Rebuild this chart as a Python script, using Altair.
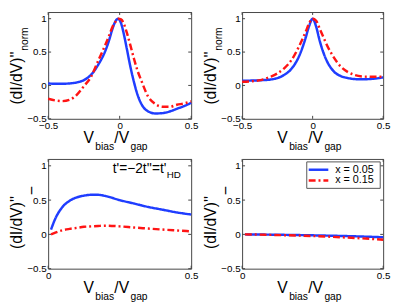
import altair as alt
import pandas as pd

FONT = "Liberation Sans"
BLUE = "#1f3dff"
RED = "#ff1414"
FRAME = "#444444"

SERIES = ["x = 0.05", "x = 0.15"]

# top-left panel
TL_X = [-0.5, -0.45, -0.4, -0.35, -0.3, -0.25, -0.2, -0.15, -0.1, -0.075, -0.05, -0.03, -0.01,
        0.01, 0.03, 0.05, 0.075, 0.1, 0.125, 0.15, 0.2, 0.25, 0.3, 0.35, 0.4, 0.45, 0.5]
TL_BLUE = [0.03, 0.025, 0.025, 0.03, 0.045, 0.08, 0.16, 0.31, 0.52, 0.67, 0.85, 0.96, 1.0,
           0.93, 0.76, 0.55, 0.28, 0.05, -0.14, -0.27, -0.39, -0.42, -0.415, -0.39, -0.35, -0.31, -0.26]
TL_RED = [-0.2, -0.225, -0.235, -0.215, -0.14, -0.01, 0.13, 0.37, 0.61, 0.74, 0.88, 0.95, 1.0,
          0.99, 0.92, 0.79, 0.6, 0.4, 0.22, 0.08, -0.17, -0.28, -0.32, -0.32, -0.29, -0.27, -0.24]

# top-right panel
TR_X = [-0.5, -0.45, -0.4, -0.35, -0.3, -0.25, -0.2, -0.15, -0.1, -0.075, -0.05, -0.025, 0.0,
        0.025, 0.05, 0.075, 0.1, 0.15, 0.2, 0.25, 0.3, 0.35, 0.4, 0.45, 0.5]
TR_BLUE = [0.07, 0.072, 0.075, 0.08, 0.088, 0.11, 0.16, 0.25, 0.42, 0.55, 0.71, 0.89, 1.0,
           0.88, 0.67, 0.5, 0.37, 0.21, 0.14, 0.11, 0.095, 0.092, 0.095, 0.105, 0.12]
TR_RED = [0.055, 0.06, 0.07, 0.09, 0.13, 0.18, 0.26, 0.38, 0.57, 0.68, 0.8, 0.93, 1.0,
          0.97, 0.85, 0.73, 0.61, 0.42, 0.28, 0.2, 0.155, 0.135, 0.13, 0.13, 0.13]

# bottom-left panel
BL_X = [0.01, 0.025, 0.05, 0.075, 0.1, 0.125, 0.15, 0.175, 0.2, 0.25, 0.3, 0.35, 0.4, 0.45, 0.5]
BL_BLUE = [0.07, 0.23, 0.4, 0.49, 0.54, 0.565, 0.577, 0.577, 0.56, 0.5, 0.45, 0.4, 0.36, 0.32, 0.29]
BL_RED = [0.0, 0.025, 0.06, 0.08, 0.095, 0.11, 0.117, 0.123, 0.127, 0.117, 0.1, 0.085, 0.07, 0.057, 0.045]

# bottom-right panel
BR_X = [0.01, 0.1, 0.2, 0.3, 0.4, 0.5]
BR_BLUE = [0.0, -0.004, -0.01, -0.018, -0.028, -0.042]
BR_RED = [0.0, -0.007, -0.017, -0.032, -0.052, -0.078]

Y_TICKS = [-0.5, 0, 0.5, 1]
TOP_XTICKS = [-0.5, 0, 0.5]
BOT_XTICKS = [0, 0.5]
Y_DOMAIN = [-0.5, 1.1]

Y_MAIN = "(dI/dV)''"
Y_SUB_TOP = "norm"
Y_SUB_BOT = "\u2212"
X_PARTS = ["V", "bias", "/V", "gap"]
ANNOT = "t'=\u22122t''=t'"
ANNOT_SUB = "HD"


def long_df(xs, b, r):
    rows = []
    for s, ys in zip(SERIES, [b, r]):
        for x, y in zip(xs, ys):
            rows.append({"x": x, "y": y, "series": s})
    return pd.DataFrame(rows)


def txt(s, x, y, size, angle=0, align="left", baseline="alphabetic"):
    kw = dict(align=align, baseline=baseline, fontSize=size, font=FONT, color="black")
    if angle:
        kw["angle"] = angle
    return alt.Chart(pd.DataFrame({"t": [s]})).mark_text(**kw).encode(
        x=alt.value(x), y=alt.value(y), text="t:N")


def panel(xs, b, r, xdom, xticks, W, H, bottom_row, extras=()):
    X = alt.X("x:Q", scale=alt.Scale(domain=xdom, nice=False, zero=False),
              axis=alt.Axis(values=xticks, title=None, labelFlush=False, labelPadding=2,
                            format="~g", ticks=False, tickSize=0, domain=False, grid=False,
                            labelFont=FONT, labelFontSize=10, labelColor="black"))
    Y = alt.Y("y:Q", scale=alt.Scale(domain=Y_DOMAIN, nice=False, zero=False),
              axis=alt.Axis(values=Y_TICKS, title=None, labelPadding=2, format="~g",
                            ticks=False, tickSize=0, domain=False, grid=False,
                            labelFont=FONT, labelFontSize=10, labelColor="black"))
    lines = alt.Chart(long_df(xs, b, r)).mark_line(strokeWidth=2.5, interpolate="monotone").encode(
        x=X, y=Y,
        color=alt.Color("series:N", scale=alt.Scale(domain=SERIES, range=[BLUE, RED]), legend=None),
        strokeDash=alt.StrokeDash("series:N", scale=alt.Scale(domain=SERIES, range=[[1, 0], [7, 3, 2, 3]]),
                                  legend=None),
    )
    ydf = pd.DataFrame({"y": Y_TICKS})
    xdf = pd.DataFrame({"x": xticks})
    tick_l = alt.Chart(ydf).mark_rule(color=FRAME, strokeWidth=1).encode(y=Y, x=alt.value(0), x2=alt.value(3))
    tick_r = alt.Chart(ydf).mark_rule(color=FRAME, strokeWidth=1).encode(y=Y, x=alt.value(W - 3), x2=alt.value(W))
    tick_b = alt.Chart(xdf).mark_rule(color=FRAME, strokeWidth=1).encode(x=X, y=alt.value(H - 3), y2=alt.value(H))
    tick_t = alt.Chart(xdf).mark_rule(color=FRAME, strokeWidth=1).encode(x=X, y=alt.value(0), y2=alt.value(3))

    c = H / 2
    layers = [tick_l, tick_r, tick_b, tick_t, lines]
    # x-axis title with subscripts
    layers += [
        txt(X_PARTS[0], 36, H + 25, 16),
        txt(X_PARTS[1], 48, H + 32, 10.5),
        txt(X_PARTS[2], 67.5, H + 25, 16),
        txt(X_PARTS[3], 84, H + 32, 10.5),
    ]
    # y-axis title with subscript
    if not bottom_row:
        layers += [
            txt(Y_MAIN, -27, c + 40, 16, angle=270),
            txt(Y_SUB_TOP, -21, c - 15, 10.5, angle=270),
        ]
    else:
        layers += [
            txt(Y_MAIN, -27, c + 36, 16, angle=270),
            txt(Y_SUB_BOT, -11, c - 19, 16, angle=270),
        ]
    layers += list(extras)
    return alt.layer(*layers).properties(width=W, height=H)


# annotation in bottom-left
annot = [txt(ANNOT, 66, 14, 14), txt(ANNOT_SUB, 121, 19.5, 10)]

# legend in bottom-right
leg_box = alt.Chart(pd.DataFrame({"a": [0]})).mark_rect(fill="white", stroke="#555555", strokeWidth=1).encode(
    x=alt.value(66), x2=alt.value(141), y=alt.value(3), y2=alt.value(30))
leg_blue = alt.Chart(pd.DataFrame({"a": [0]})).mark_rule(color=BLUE, strokeWidth=2.5).encode(
    x=alt.value(68), x2=alt.value(88), y=alt.value(11))
leg_red = alt.Chart(pd.DataFrame({"a": [0]})).mark_rule(color=RED, strokeWidth=2.5, strokeDash=[7, 3, 2, 3]).encode(
    x=alt.value(68), x2=alt.value(88), y=alt.value(22))
legend = [leg_box, leg_blue, leg_red,
          txt(SERIES[0], 95, 11, 11, baseline="middle"),
          txt(SERIES[1], 95, 22, 11, baseline="middle")]

p1 = panel(TL_X, TL_BLUE, TL_RED, [-0.5, 0.5], TOP_XTICKS, 146, 109, False)
p2 = panel(TR_X, TR_BLUE, TR_RED, [-0.5, 0.5], TOP_XTICKS, 144, 109, False)
p3 = panel(BL_X, BL_BLUE, BL_RED, [0, 0.5], BOT_XTICKS, 146, 112, True, annot)
p4 = panel(BR_X, BR_BLUE, BR_RED, [0, 0.5], BOT_XTICKS, 144, 112, True, legend)

chart = alt.concat(p1, p2, p3, p4, columns=2, spacing={"row": 41, "column": 52}, bounds="flush").properties(
    padding=0, background="white"
).configure_view(stroke=FRAME, strokeWidth=1)

chart.save("out.html", embed_options={"renderer": "svg", "actions": False})
